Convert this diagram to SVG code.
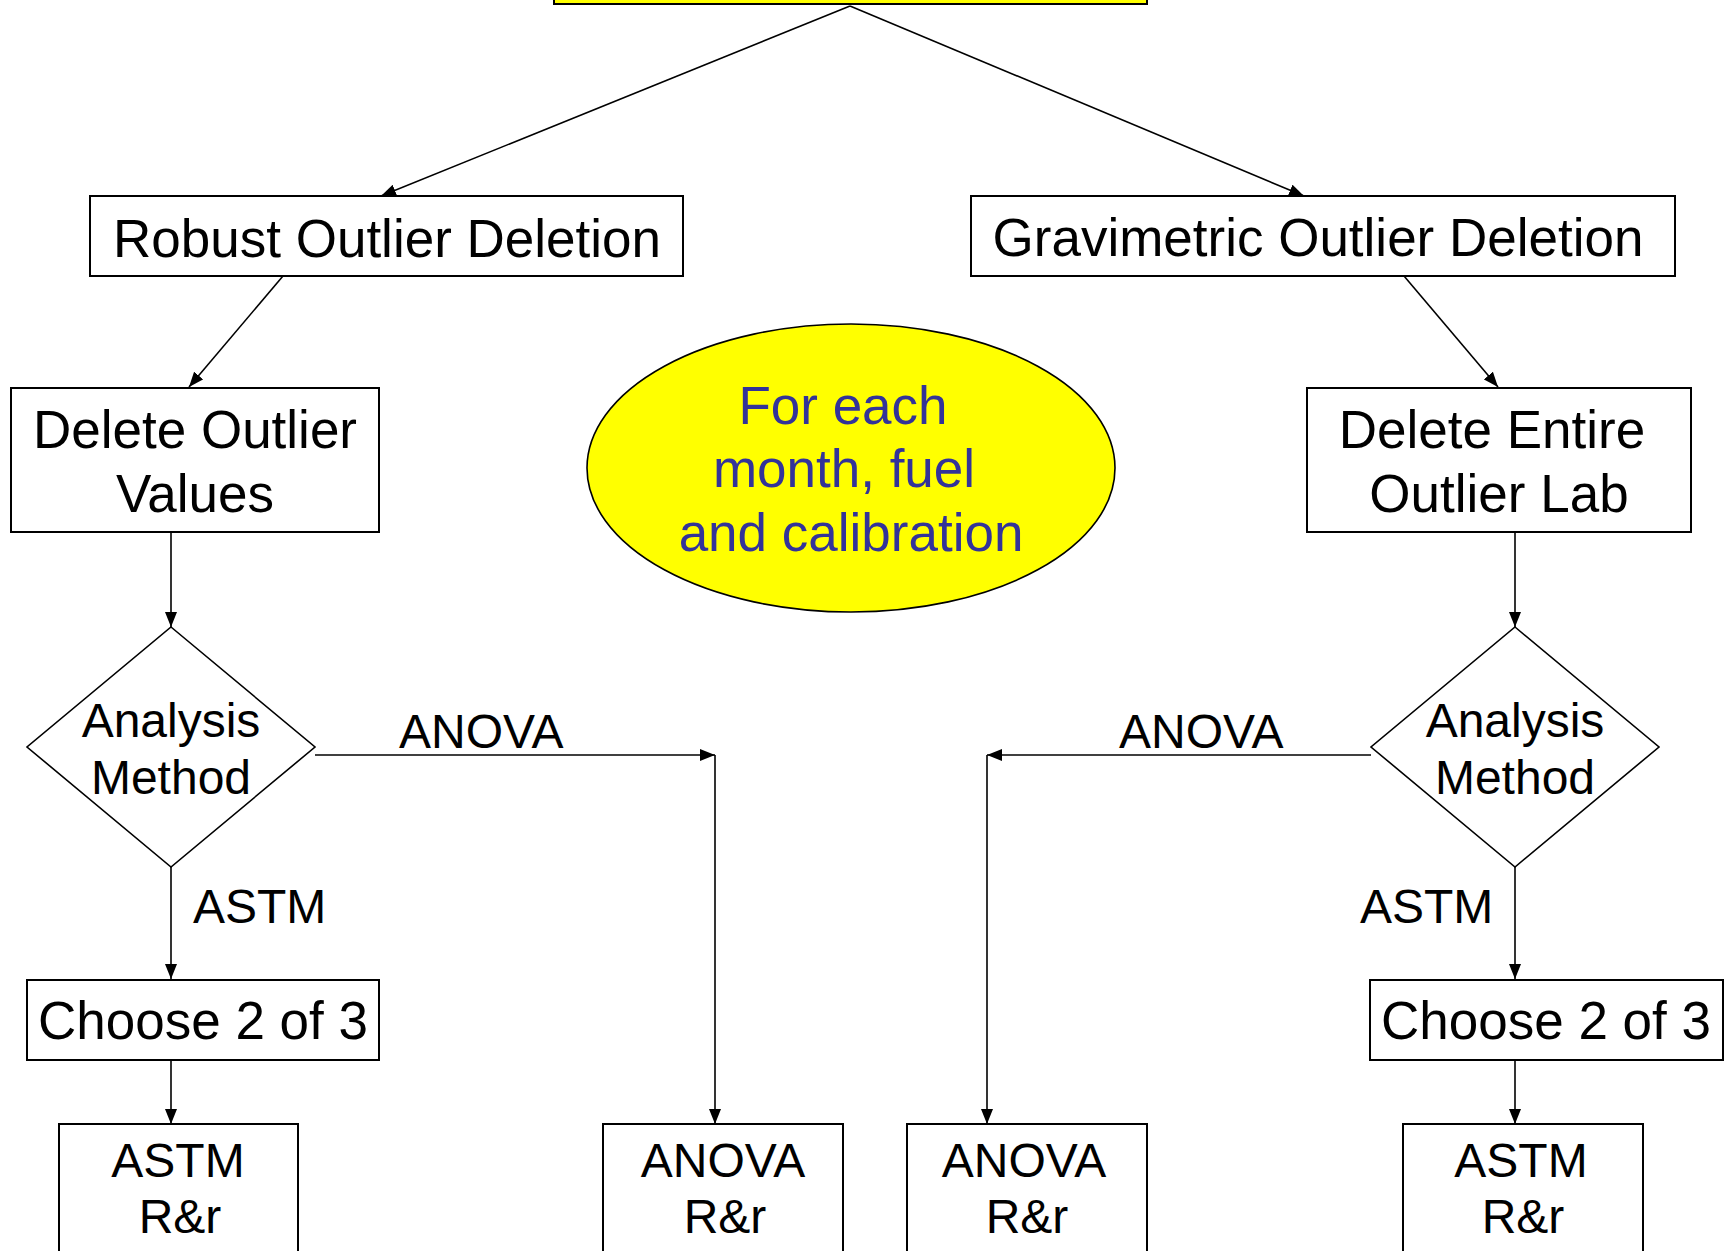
<svg xmlns="http://www.w3.org/2000/svg" width="1726" height="1251" viewBox="0 0 1726 1251">
<defs>
<marker id="ah" markerUnits="userSpaceOnUse" markerWidth="15" markerHeight="12" refX="15" refY="6" orient="auto">
<path d="M0,0 L15,6 L0,12 z" fill="#000"/>
</marker>
<style>
.box{fill:#fff;stroke:#000;stroke-width:2}
.dia{fill:#fff;stroke:#000;stroke-width:1.6}
.t{font-family:"Liberation Sans",Arial,sans-serif;font-size:53px;fill:#000}
.s{font-family:"Liberation Sans",Arial,sans-serif;font-size:48px;fill:#000}
.e{font-family:"Liberation Sans",Arial,sans-serif;font-size:53px;fill:#333399}
.c{fill:none;stroke:#000;stroke-width:1.6;marker-end:url(#ah)}
.m{text-anchor:middle}
</style>
</defs>
<rect width="1726" height="1251" fill="#fff"/>

<g id="connectors">
<path class="c" d="M850,6 L381,196"/>
<path class="c" d="M850,6 L1304,196"/>
<path class="c" d="M283,276 L189,387"/>
<path class="c" d="M1404,276 L1498,387"/>
<path class="c" d="M171,532 L171,627"/>
<path class="c" d="M1515,532 L1515,627"/>
<path class="c" d="M171,867 L171,979"/>
<path class="c" d="M1515,867 L1515,979"/>
<path class="c" d="M171,1060 L171,1124"/>
<path class="c" d="M1515,1060 L1515,1124"/>
<path class="c" d="M315,755 L715,755"/>
<path class="c" d="M715,755 L715,1124"/>
<path class="c" d="M1371,755 L987,755"/>
<path class="c" d="M987,755 L987,1124"/>
<text class="s" x="399" y="748">ANOVA</text>
<text class="s" x="193" y="923">ASTM</text>
<text class="s" x="1119" y="748">ANOVA</text>
<text class="s" x="1360" y="923">ASTM</text>
</g>

<g id="top">
<rect x="554" y="-60" width="593" height="64" fill="#ffff00" stroke="#000" stroke-width="2"/>
</g>

<g id="robust">
<rect class="box" x="90" y="196" width="593" height="80"/>
<text class="t m" x="387" y="257">Robust Outlier Deletion</text>
</g>

<g id="gravimetric">
<rect class="box" x="971" y="196" width="704" height="80"/>
<text class="t m" x="1318" y="256">Gravimetric Outlier Deletion</text>
</g>

<g id="delete-values">
<rect class="box" x="11" y="388" width="368" height="144"/>
<text class="t m" x="195" y="448">Delete Outlier</text>
<text class="t m" x="195" y="512">Values</text>
</g>

<g id="delete-lab">
<rect class="box" x="1307" y="388" width="384" height="144"/>
<text class="t m" x="1492" y="448">Delete Entire</text>
<text class="t m" x="1499" y="512">Outlier Lab</text>
</g>

<g id="note">
<ellipse cx="851" cy="468" rx="264" ry="144" fill="#ffff00" stroke="#000" stroke-width="1.6"/>
<text class="e m" x="843" y="424">For each</text>
<text class="e m" x="844" y="487">month, fuel</text>
<text class="e m" x="851" y="551">and calibration</text>
</g>

<g id="decision-left">
<polygon class="dia" points="171,627 315,747 171,867 27,747"/>
<text class="s m" x="171" y="737">Analysis</text>
<text class="s m" x="171" y="794">Method</text>
</g>

<g id="decision-right">
<polygon class="dia" points="1515,627 1659,747 1515,867 1371,747"/>
<text class="s m" x="1515" y="737">Analysis</text>
<text class="s m" x="1515" y="794">Method</text>
</g>

<g id="choose-left">
<rect class="box" x="27" y="980" width="352" height="80"/>
<text class="t m" x="203" y="1039">Choose 2 of 3</text>
</g>

<g id="choose-right">
<rect class="box" x="1370" y="980" width="353" height="80"/>
<text class="t m" x="1546" y="1039">Choose 2 of 3</text>
</g>

<g id="astm-left">
<rect class="box" x="59" y="1124" width="239" height="150"/>
<text class="s m" x="178" y="1177">ASTM</text>
<text class="s m" x="180" y="1233">R&amp;r</text>
</g>

<g id="anova-left">
<rect class="box" x="603" y="1124" width="240" height="150"/>
<text class="s m" x="723" y="1177">ANOVA</text>
<text class="s m" x="725" y="1233">R&amp;r</text>
</g>

<g id="anova-right">
<rect class="box" x="907" y="1124" width="240" height="150"/>
<text class="s m" x="1024" y="1177">ANOVA</text>
<text class="s m" x="1027" y="1233">R&amp;r</text>
</g>

<g id="astm-right">
<rect class="box" x="1403" y="1124" width="240" height="150"/>
<text class="s m" x="1521" y="1177">ASTM</text>
<text class="s m" x="1523" y="1233">R&amp;r</text>
</g>
</svg>
